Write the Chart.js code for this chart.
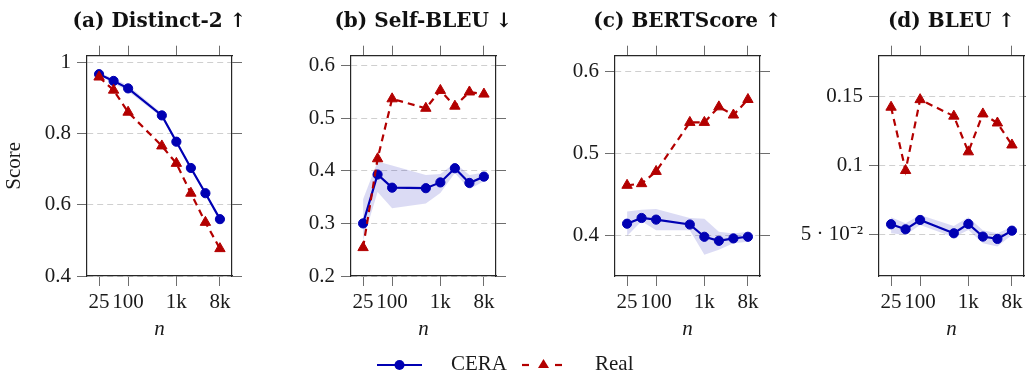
<!DOCTYPE html>
<html>
<head>
<meta charset="utf-8">
<script src="https://cdn.jsdelivr.net/npm/chart.js@4.4.1/dist/chart.umd.min.js"></script>
<style>
  html, body { margin: 0; padding: 0; background: #fff; overflow: hidden; }
  body { width: 1026px; height: 374px; position: relative; }
  canvas { position: absolute; top: 0; }
  .legend-text { position: absolute; top: 351px; font-family: 'Liberation Serif', serif; font-size: 21px; line-height: 25px; color: #1a1a1a; }
  #legendSymbols { position: absolute; left: 370px; top: 350px; }
</style>
</head>
<body>
<canvas id="chartA" width="319" height="374" style="left:0px"></canvas>
<canvas id="chartB" width="319" height="374" style="left:264px"></canvas>
<canvas id="chartC" width="319" height="374" style="left:528px"></canvas>
<canvas id="chartD" width="319" height="374" style="left:792px"></canvas>

<svg id="legendSymbols" width="200" height="30">
  <line x1="7" y1="15" x2="52" y2="15" stroke="#0000b3" stroke-width="2.2"/>
  <circle cx="29.5" cy="15" r="5" fill="#0000b3"/>
  <line x1="152" y1="15" x2="159" y2="15" stroke="#b30000" stroke-width="2.2"/>
  <line x1="185" y1="15" x2="192" y2="15" stroke="#b30000" stroke-width="2.2"/>
  <polygon points="173.5,9 179,18 168,18" fill="#b30000"/>
</svg>
<span class="legend-text" style="left:451px">CERA</span>
<span class="legend-text" style="left:595px">Real</span>

<script>
  // x positions (n) and ticks shared by all panels
  const nValues = [25, 50, 100, 500, 1000, 2000, 4000, 8000];
  const xTickValues = [25, 100, 1000, 8000];
  const xTickLabels = ["25", "100", "1k", "8k"];

  // (a) Distinct-2
  const distinctCera     = [0.968, 0.949, 0.928, 0.852, 0.778, 0.704, 0.633, 0.560];
  const distinctCeraHigh = [0.972, 0.956, 0.937, 0.858, 0.783, 0.709, 0.638, 0.564];
  const distinctCeraLow  = [0.964, 0.942, 0.920, 0.846, 0.773, 0.699, 0.628, 0.556];
  const distinctReal     = [0.960, 0.923, 0.861, 0.766, 0.717, 0.633, 0.551, 0.477];
  const distinctTicks    = [0.4, 0.6, 0.8, 1];
  const distinctTickLabels = ["0.4", "0.6", "0.8", "1"];

  // (b) Self-BLEU
  const selfBleuCera     = [0.300, 0.393, 0.368, 0.367, 0.378, 0.405, 0.377, 0.389];
  const selfBleuCeraHigh = [0.346, 0.418, 0.410, 0.392, 0.394, 0.415, 0.392, 0.397];
  const selfBleuCeraLow  = [0.268, 0.360, 0.329, 0.338, 0.358, 0.396, 0.365, 0.380];
  const selfBleuReal     = [0.254, 0.423, 0.537, 0.519, 0.553, 0.523, 0.550, 0.546];
  const selfBleuTicks    = [0.2, 0.3, 0.4, 0.5, 0.6];
  const selfBleuTickLabels = ["0.2", "0.3", "0.4", "0.5", "0.6"];

  // (c) BERTScore
  const bertCera     = [0.414, 0.421, 0.419, 0.413, 0.398, 0.393, 0.396, 0.398];
  const bertCeraHigh = [0.429, 0.431, 0.432, 0.421, 0.420, 0.404, 0.402, 0.404];
  const bertCeraLow  = [0.399, 0.417, 0.406, 0.406, 0.376, 0.382, 0.390, 0.392];
  const bertReal     = [0.461, 0.463, 0.478, 0.538, 0.538, 0.557, 0.547, 0.566];
  const bertTicks    = [0.4, 0.5, 0.6];
  const bertTickLabels = ["0.4", "0.5", "0.6"];

  // (d) BLEU
  const bleuCera     = [0.0573, 0.0536, 0.0604, 0.0507, 0.0575, 0.0483, 0.0466, 0.0526];
  const bleuCeraHigh = [0.0624, 0.0580, 0.0640, 0.0560, 0.0624, 0.0530, 0.0507, 0.0555];
  const bleuCeraLow  = [0.0507, 0.0495, 0.0568, 0.0478, 0.0531, 0.0434, 0.0410, 0.0495];
  const bleuReal     = [0.1425, 0.0964, 0.1480, 0.1360, 0.1100, 0.1376, 0.1310, 0.1150];
  const bleuTicks    = [0.05, 0.1, 0.15];
  const bleuTickLabels = ["5 \u00b7 10\u207b\u00b2", "0.1", "0.15"];

  const blue = "#0000b3";
  const red = "#b30000";
  const bandColor = "rgba(0, 0, 179, 0.14)";
  const gridColor = "#cfcfcf";
  const tickColor = "#6e6e6e";
  const boxColor = "#262626";

  Chart.defaults.font.family = "'Liberation Serif', serif";
  Chart.defaults.font.size = 21;
  Chart.defaults.color = "#1a1a1a";

  // log range padded a quarter decade on both sides
  const xMin = 25 / Math.pow(10, 0.25);
  const xMax = 8000 * Math.pow(10, 0.25);

  function makePanel(id, title, cera, ceraHigh, ceraLow, real, yMin, yMax, yTicks, yTickLabels, showYTitle) {
    const pts = arr => nValues.map((n, i) => ({ x: n, y: arr[i] }));
    const setXTicks = s => { s.ticks = xTickValues.map(v => ({ value: v })); };
    const setYTicks = s => { s.ticks = yTicks.map(v => ({ value: v })); };

    new Chart(document.getElementById(id), {
      type: "line",
      data: {
        datasets: [
          { data: pts(ceraHigh), borderWidth: 0, pointRadius: 0, fill: "+1", backgroundColor: bandColor, order: 10 },
          { data: pts(ceraLow), borderWidth: 0, pointRadius: 0, fill: false, order: 10 },
          {
            label: "CERA", data: pts(cera), borderColor: blue, backgroundColor: blue,
            borderWidth: 2.2, pointStyle: "circle", pointRadius: 4.6, pointBorderWidth: 1, order: 5
          },
          {
            label: "Real", data: pts(real), borderColor: red, backgroundColor: red,
            borderWidth: 2.2, borderDash: [7, 5], pointStyle: "triangle", pointRadius: 6, pointBorderWidth: 1, order: 1
          }
        ]
      },
      options: {
        responsive: false,
        animation: false,
        events: [],
        layout: { padding: { top: 0, bottom: 28, left: 0, right: 0 } },
        plugins: {
          legend: { display: false },
          tooltip: { enabled: false },
          title: {
            display: true,
            text: title,
            color: "#111",
            font: { family: "'DejaVu Serif', serif", weight: "bold", size: 20, lineHeight: 1.2 },
            padding: { top: 10, bottom: 0 }
          }
        },
        scales: {
          x: {
            type: "logarithmic", position: "bottom", min: xMin, max: xMax,
            afterBuildTicks: setXTicks,
            afterFit: s => { s.height = 70; },
            ticks: { callback: (v, i) => xTickLabels[i], padding: 4, maxRotation: 0, autoSkip: false },
            grid: { drawOnChartArea: false, tickLength: 10, tickColor: tickColor },
            border: { color: boxColor, width: 1.2 },
            title: { display: true, text: "n", font: { style: "italic", size: 21 }, padding: { top: 0, bottom: 4 } }
          },
          xTop: {
            type: "logarithmic", position: "top", min: xMin, max: xMax,
            afterBuildTicks: setXTicks,
            afterFit: s => { s.height = 21.7; },
            ticks: { display: false },
            grid: { drawOnChartArea: false, tickLength: 10, tickColor: tickColor },
            border: { color: boxColor, width: 1.2 }
          },
          y: {
            type: "linear", position: "left", min: yMin, max: yMax,
            afterBuildTicks: setYTicks,
            afterFit: s => { s.width = 87; },
            ticks: { callback: (v, i) => yTickLabels[i], padding: 6 },
            grid: { color: gridColor, tickLength: 10, tickColor: tickColor },
            border: { color: boxColor, width: 1.2, dash: [6, 4] },
            title: { display: showYTitle, text: "Score", padding: { top: 2, bottom: 0 } }
          },
          yRight: {
            type: "linear", position: "right", min: yMin, max: yMax,
            afterBuildTicks: setYTicks,
            afterFit: s => { s.width = 87; },
            ticks: { display: false },
            grid: { drawOnChartArea: false, tickLength: 10, tickColor: tickColor },
            border: { color: boxColor, width: 1.2 }
          }
        }
      }
    });
  }

  makePanel("chartA", "(a) Distinct-2 \u2191", distinctCera, distinctCeraHigh, distinctCeraLow, distinctReal,
    0.4, 1.02, distinctTicks, distinctTickLabels, true);
  makePanel("chartB", "(b) Self-BLEU \u2193", selfBleuCera, selfBleuCeraHigh, selfBleuCeraLow, selfBleuReal,
    0.2, 0.619, selfBleuTicks, selfBleuTickLabels, false);
  makePanel("chartC", "(c) BERTScore \u2191", bertCera, bertCeraHigh, bertCeraLow, bertReal,
    0.35, 0.6196, bertTicks, bertTickLabels, false);
  makePanel("chartD", "(d) BLEU \u2191", bleuCera, bleuCeraHigh, bleuCeraLow, bleuReal,
    0.0196, 0.180, bleuTicks, bleuTickLabels, false);
</script>
</body>
</html>
